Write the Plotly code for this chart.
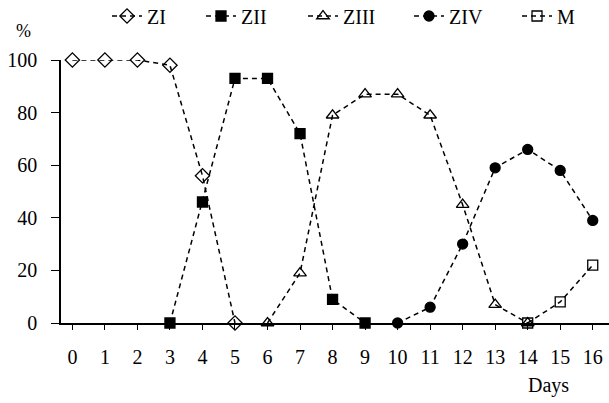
import plotly.graph_objects as go

# Percentage of each larval stage per day
zi_days = [0, 1, 2, 3, 4, 5]
zi_vals = [100, 100, 100, 98, 56, 0]
zii_days = [3, 4, 5, 6, 7, 8, 9]
zii_vals = [0, 46, 93, 93, 72, 9, 0]
ziii_days = [6, 7, 8, 9, 10, 11, 12, 13, 14]
ziii_vals = [0, 19, 79, 87, 87, 79, 45, 7, 0]
ziv_days = [10, 11, 12, 13, 14, 15, 16]
ziv_vals = [0, 6, 30, 59, 66, 58, 39]
m_days = [14, 15, 16]
m_vals = [0, 8, 22]

x_ticks = list(range(0, 17))
y_ticks = [0, 20, 40, 60, 80, 100]

FONT = "Liberation Serif, Times New Roman, serif"
W, H = 609, 403

# name, days, values, marker symbol, marker size, legend slot left edge (px)
series = [
    ("ZI", zi_days, zi_vals, "diamond-open", 11, 107),
    ("ZII", zii_days, zii_vals, "square", 10, 201),
    ("ZIII", ziii_days, ziii_vals, "triangle-up-open", 11, 303),
    ("ZIV", ziv_days, ziv_vals, "circle", 10, 409),
    ("M", m_days, m_vals, "square-open", 10, 517),
]

fig = go.Figure()
legends = {}
for i, (name, xs, ys, sym, size, lx) in enumerate(series):
    key = "legend" if i == 0 else f"legend{i + 1}"
    fig.add_trace(go.Scatter(
        x=xs, y=ys, name=name, mode="lines+markers", legend=key,
        line=dict(color="black", width=1.5, dash="5px,4px"),
        marker=dict(symbol=sym, size=size, color="black",
                    line=dict(color="black", width=1.3)),
        cliponaxis=False,
    ))
    legends[key] = dict(
        orientation="h", xref="container", yref="container",
        x=lx / W, y=1 - 16 / H, xanchor="left", yanchor="middle",
        font=dict(family=FONT, size=20, color="black"),
        bgcolor="rgba(0,0,0,0)", borderwidth=0,
    )

fig.update_layout(
    width=W, height=H,
    margin=dict(l=61, r=0, t=60, b=80),
    paper_bgcolor="white", plot_bgcolor="white",
    font=dict(family=FONT, size=20, color="black"),
    showlegend=True,
    xaxis=dict(range=[-0.35, 16.5], tickvals=x_ticks,
               showgrid=False, zeroline=False, showline=True, linecolor="black",
               linewidth=1.5, ticks="outside", ticklen=5, tickwidth=1.3,
               tickcolor="black", ticklabelstandoff=10),
    yaxis=dict(range=[0, 100], tickvals=y_ticks, showgrid=False, zeroline=False,
               showline=True, linecolor="black", linewidth=1.5, ticks="outside",
               ticklen=8, tickwidth=1.3, tickcolor="black", ticklabelstandoff=10),
    annotations=[
        dict(text="%", xref="paper", yref="paper", x=(23 - 61) / 548,
             y=(323 - 31) / 263, xanchor="center", yanchor="middle",
             showarrow=False, font=dict(family=FONT, size=18)),
        dict(text="Days", xref="paper", yref="paper", x=(548 - 61) / 548,
             y=(323 - 385) / 263, xanchor="center", yanchor="middle",
             showarrow=False, font=dict(family=FONT, size=20)),
    ],
    **legends,
)

fig.write_html("out.html")
